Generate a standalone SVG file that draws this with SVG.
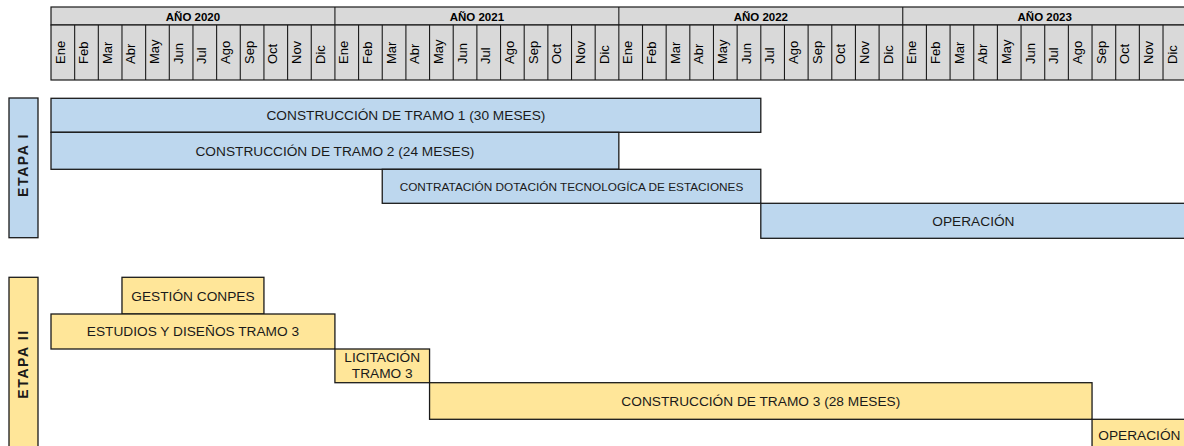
<svg xmlns="http://www.w3.org/2000/svg" width="1184" height="446" viewBox="0 0 1184 446">
<style>
.hdr{fill:#d9d9d9;stroke:#1a1a1a;stroke-width:1.2}
.ln{stroke:#1a1a1a;stroke-width:1.1}
.yr{font-family:"Liberation Sans",Arial,sans-serif;font-weight:bold;font-size:11.5px;fill:#000;text-anchor:middle}
.mo{font-family:"Liberation Sans",Arial,sans-serif;font-size:13px;fill:#000}
.blue{fill:#bdd7ee;stroke:#1a1a1a;stroke-width:1.3}
.yel{fill:#ffe699;stroke:#1a1a1a;stroke-width:1.3}
.bt{font-family:"Liberation Sans",Arial,sans-serif;font-size:13.7px;fill:#1a1a1a;text-anchor:middle}
.st{font-family:"Liberation Sans",Arial,sans-serif;font-size:11.8px;fill:#1a1a1a;text-anchor:middle}
.et{font-family:"Liberation Sans",Arial,sans-serif;font-weight:bold;font-size:14px;fill:#1a1a1a;text-anchor:middle;letter-spacing:1.6px}
</style>
<rect width="1184" height="446" fill="#ffffff"/>
<g id="header">
<rect class="hdr" x="51" y="7" width="1136" height="18"/>
<rect class="hdr" x="51" y="25" width="1136" height="55"/>
<g class="ln">
<line x1="334.92" y1="7" x2="334.92" y2="80"/><line x1="618.84" y1="7" x2="618.84" y2="80"/><line x1="902.76" y1="7" x2="902.76" y2="80"/>
<line x1="74.66" y1="25" x2="74.66" y2="80"/><line x1="98.32" y1="25" x2="98.32" y2="80"/><line x1="121.98" y1="25" x2="121.98" y2="80"/><line x1="145.64" y1="25" x2="145.64" y2="80"/><line x1="169.3" y1="25" x2="169.3" y2="80"/><line x1="192.96" y1="25" x2="192.96" y2="80"/><line x1="216.62" y1="25" x2="216.62" y2="80"/><line x1="240.28" y1="25" x2="240.28" y2="80"/><line x1="263.94" y1="25" x2="263.94" y2="80"/><line x1="287.6" y1="25" x2="287.6" y2="80"/><line x1="311.26" y1="25" x2="311.26" y2="80"/>
<line x1="358.58" y1="25" x2="358.58" y2="80"/><line x1="382.24" y1="25" x2="382.24" y2="80"/><line x1="405.9" y1="25" x2="405.9" y2="80"/><line x1="429.56" y1="25" x2="429.56" y2="80"/><line x1="453.22" y1="25" x2="453.22" y2="80"/><line x1="476.88" y1="25" x2="476.88" y2="80"/><line x1="500.54" y1="25" x2="500.54" y2="80"/><line x1="524.2" y1="25" x2="524.2" y2="80"/><line x1="547.86" y1="25" x2="547.86" y2="80"/><line x1="571.52" y1="25" x2="571.52" y2="80"/><line x1="595.18" y1="25" x2="595.18" y2="80"/>
<line x1="642.5" y1="25" x2="642.5" y2="80"/><line x1="666.16" y1="25" x2="666.16" y2="80"/><line x1="689.82" y1="25" x2="689.82" y2="80"/><line x1="713.48" y1="25" x2="713.48" y2="80"/><line x1="737.14" y1="25" x2="737.14" y2="80"/><line x1="760.8" y1="25" x2="760.8" y2="80"/><line x1="784.46" y1="25" x2="784.46" y2="80"/><line x1="808.12" y1="25" x2="808.12" y2="80"/><line x1="831.78" y1="25" x2="831.78" y2="80"/><line x1="855.44" y1="25" x2="855.44" y2="80"/><line x1="879.1" y1="25" x2="879.1" y2="80"/>
<line x1="926.42" y1="25" x2="926.42" y2="80"/><line x1="950.08" y1="25" x2="950.08" y2="80"/><line x1="973.74" y1="25" x2="973.74" y2="80"/><line x1="997.4" y1="25" x2="997.4" y2="80"/><line x1="1021.06" y1="25" x2="1021.06" y2="80"/><line x1="1044.72" y1="25" x2="1044.72" y2="80"/><line x1="1068.38" y1="25" x2="1068.38" y2="80"/><line x1="1092.04" y1="25" x2="1092.04" y2="80"/><line x1="1115.7" y1="25" x2="1115.7" y2="80"/><line x1="1139.36" y1="25" x2="1139.36" y2="80"/><line x1="1163.02" y1="25" x2="1163.02" y2="80"/>
</g>
<text class="yr" x="192.96" y="21">AÑO 2020</text>
<text class="yr" x="476.88" y="21">AÑO 2021</text>
<text class="yr" x="760.8" y="21">AÑO 2022</text>
<text class="yr" x="1044.72" y="21">AÑO 2023</text>
<g class="mo">
<text transform="translate(64.5,64) rotate(-90)">Ene</text><text transform="translate(88.16,64) rotate(-90)">Feb</text><text transform="translate(111.82,64) rotate(-90)">Mar</text><text transform="translate(135.48,64) rotate(-90)">Abr</text><text transform="translate(159.14,64) rotate(-90)">May</text><text transform="translate(182.8,64) rotate(-90)">Jun</text><text transform="translate(206.46,64) rotate(-90)">Jul</text><text transform="translate(230.12,64) rotate(-90)">Ago</text><text transform="translate(253.78,64) rotate(-90)">Sep</text><text transform="translate(277.44,64) rotate(-90)">Oct</text><text transform="translate(301.1,64) rotate(-90)">Nov</text><text transform="translate(324.76,64) rotate(-90)">Dic</text>
<text transform="translate(348.42,64) rotate(-90)">Ene</text><text transform="translate(372.08,64) rotate(-90)">Feb</text><text transform="translate(395.74,64) rotate(-90)">Mar</text><text transform="translate(419.4,64) rotate(-90)">Abr</text><text transform="translate(443.06,64) rotate(-90)">May</text><text transform="translate(466.72,64) rotate(-90)">Jun</text><text transform="translate(490.38,64) rotate(-90)">Jul</text><text transform="translate(514.04,64) rotate(-90)">Ago</text><text transform="translate(537.7,64) rotate(-90)">Sep</text><text transform="translate(561.36,64) rotate(-90)">Oct</text><text transform="translate(585.02,64) rotate(-90)">Nov</text><text transform="translate(608.68,64) rotate(-90)">Dic</text>
<text transform="translate(632.34,64) rotate(-90)">Ene</text><text transform="translate(656,64) rotate(-90)">Feb</text><text transform="translate(679.66,64) rotate(-90)">Mar</text><text transform="translate(703.32,64) rotate(-90)">Abr</text><text transform="translate(726.98,64) rotate(-90)">May</text><text transform="translate(750.64,64) rotate(-90)">Jun</text><text transform="translate(774.3,64) rotate(-90)">Jul</text><text transform="translate(797.96,64) rotate(-90)">Ago</text><text transform="translate(821.62,64) rotate(-90)">Sep</text><text transform="translate(845.28,64) rotate(-90)">Oct</text><text transform="translate(868.94,64) rotate(-90)">Nov</text><text transform="translate(892.6,64) rotate(-90)">Dic</text>
<text transform="translate(916.26,64) rotate(-90)">Ene</text><text transform="translate(939.92,64) rotate(-90)">Feb</text><text transform="translate(963.58,64) rotate(-90)">Mar</text><text transform="translate(987.24,64) rotate(-90)">Abr</text><text transform="translate(1010.9,64) rotate(-90)">May</text><text transform="translate(1034.56,64) rotate(-90)">Jun</text><text transform="translate(1058.22,64) rotate(-90)">Jul</text><text transform="translate(1081.88,64) rotate(-90)">Ago</text><text transform="translate(1105.54,64) rotate(-90)">Sep</text><text transform="translate(1129.2,64) rotate(-90)">Oct</text><text transform="translate(1152.86,64) rotate(-90)">Nov</text><text transform="translate(1176.52,64) rotate(-90)">Dic</text>
</g>
</g>
<g id="etapa1">
<rect class="blue" x="9" y="98" width="29" height="139.7"/>
<text class="et" transform="translate(28,165) rotate(-90)">ETAPA I</text>
</g>
<g id="tramo1"><rect class="blue" x="51" y="98.3" width="709.8" height="34"/><text class="bt" x="405.9" y="120">CONSTRUCCIÓN DE TRAMO 1 (30 MESES)</text></g>
<g id="tramo2"><rect class="blue" x="51" y="132.3" width="567.84" height="37"/><text class="bt" x="334.9" y="155.6">CONSTRUCCIÓN DE TRAMO 2 (24 MESES)</text></g>
<g id="contratacion"><rect class="blue" x="382.24" y="169.3" width="378.56" height="34"/><text class="st" x="571.5" y="190.5">CONTRATACIÓN DOTACIÓN TECNOLOGÍCA DE ESTACIONES</text></g>
<g id="operacion1"><rect class="blue" x="760.8" y="203.3" width="430" height="35"/><text class="bt" x="973.4" y="225.6">OPERACIÓN</text></g>
<g id="etapa2">
<rect class="yel" x="9" y="277.3" width="29" height="185"/>
<text class="et" transform="translate(28.3,364) rotate(-90)">ETAPA II</text>
</g>
<g id="conpes"><rect class="yel" x="121.98" y="277.3" width="141.96" height="36.7"/><text class="bt" x="192.96" y="300.5">GESTIÓN CONPES</text></g>
<g id="estudios"><rect class="yel" x="51" y="314" width="283.92" height="35"/><text class="bt" x="192.96" y="336.3">ESTUDIOS Y DISEÑOS TRAMO 3</text></g>
<g id="licitacion"><rect class="yel" x="334.92" y="349" width="94.64" height="33.7"/><text class="bt" x="382.24" y="361.7">LICITACIÓN</text><text class="bt" x="382.24" y="378">TRAMO 3</text></g>
<g id="tramo3"><rect class="yel" x="429.56" y="382.7" width="662.48" height="36.6"/><text class="bt" x="760.8" y="405.8">CONSTRUCCIÓN DE TRAMO 3 (28 MESES)</text></g>
<g id="operacion2"><rect class="yel" x="1092.04" y="419.3" width="100" height="40"/><text class="bt" x="1139.36" y="439.5">OPERACIÓN</text></g>
<g id="connectors"/>
</svg>
